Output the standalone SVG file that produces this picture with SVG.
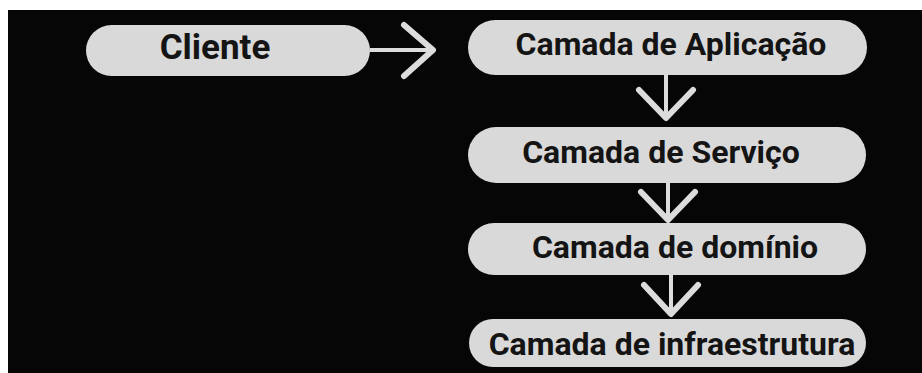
<svg xmlns="http://www.w3.org/2000/svg" width="922" height="373" viewBox="0 0 922 373">
  <style>
    .pill { fill: #d9d9d9; }
    .label { font-family: Roboto, "Liberation Sans", sans-serif; font-weight: bold; font-size: 32px; fill: #141414; text-anchor: middle; }
    .big { font-size: 35px; }
    .shaft { stroke: #dcdcdc; stroke-width: 4; fill: none; }
    .head { stroke: #dcdcdc; stroke-width: 6; fill: none; stroke-linecap: round; stroke-linejoin: round; }
  </style>
  <rect width="922" height="373" fill="#ffffff"/>
  <rect x="8" y="10" width="914" height="363" fill="#060606"/>

  <g id="connectors">
    <g id="c-cliente-aplicacao">
      <line class="shaft" x1="370" y1="50" x2="432" y2="50"/>
      <polyline class="head" points="404,25 433,50 404,76"/>
    </g>
    <g id="c-aplicacao-servico">
      <line class="shaft" x1="666" y1="75" x2="666" y2="117"/>
      <polyline class="head" points="639,90 666,118 693,90"/>
    </g>
    <g id="c-servico-dominio">
      <line class="shaft" x1="668" y1="183" x2="668" y2="220"/>
      <polyline class="head" points="641,192 668,220 695,192"/>
    </g>
    <g id="c-dominio-infra">
      <line class="shaft" x1="671" y1="275" x2="671" y2="314"/>
      <polyline class="head" points="644,285 671,314 698,285"/>
    </g>
  </g>

  <g id="cliente">
    <rect class="pill" x="86" y="25" width="284" height="51" rx="25.5"/>
    <text class="label big" x="215" y="59">Cliente</text>
  </g>
  <g id="aplicacao">
    <rect class="pill" x="468" y="20" width="399" height="55" rx="27.5"/>
    <text class="label" x="671" y="55">Camada de Aplicação</text>
  </g>
  <g id="servico">
    <rect class="pill" x="468" y="127" width="398" height="56" rx="28"/>
    <text class="label" x="661" y="163">Camada de Serviço</text>
  </g>
  <g id="dominio">
    <rect class="pill" x="468" y="223" width="398" height="52" rx="26"/>
    <text class="label" x="675" y="258">Camada de domínio</text>
  </g>
  <g id="infra">
    <rect class="pill" x="469" y="319" width="397" height="48" rx="24"/>
    <text class="label" x="672" y="355">Camada de infraestrutura</text>
  </g>
</svg>
